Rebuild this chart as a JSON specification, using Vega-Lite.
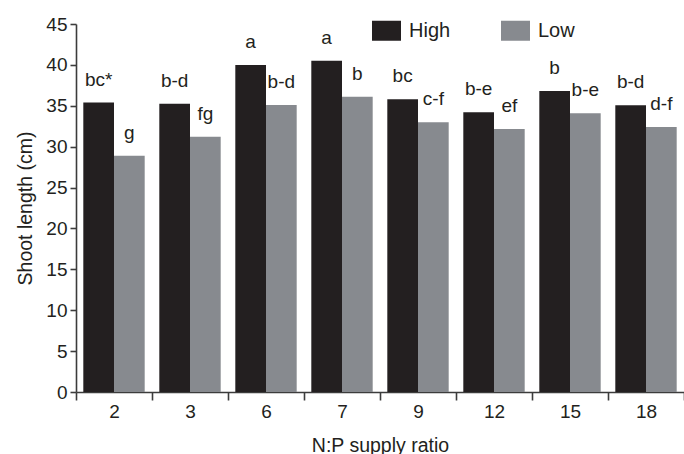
{
  "$schema": "https://vega.github.io/schema/vega-lite/v6.json",
  "width": 608,
  "height": 368,
  "autosize": {"type": "none"},
  "padding": {"left": 76, "top": 24, "right": 0, "bottom": 62},
  "background": "white",
  "config": {"view": {"stroke": null}, "font": "Liberation Sans"},
  "data": {"values": [
    {"ratio": "2", "level": "High", "value": 35.4, "label": "bc*"},
    {"ratio": "2", "level": "Low", "value": 28.9, "label": "g"},
    {"ratio": "3", "level": "High", "value": 35.25, "label": "b-d"},
    {"ratio": "3", "level": "Low", "value": 31.2, "label": "fg"},
    {"ratio": "6", "level": "High", "value": 40.0, "label": "a"},
    {"ratio": "6", "level": "Low", "value": 35.1, "label": "b-d"},
    {"ratio": "7", "level": "High", "value": 40.5, "label": "a"},
    {"ratio": "7", "level": "Low", "value": 36.1, "label": "b"},
    {"ratio": "9", "level": "High", "value": 35.8, "label": "bc"},
    {"ratio": "9", "level": "Low", "value": 33.0, "label": "c-f"},
    {"ratio": "12", "level": "High", "value": 34.2, "label": "b-e"},
    {"ratio": "12", "level": "Low", "value": 32.15, "label": "ef"},
    {"ratio": "15", "level": "High", "value": 36.8, "label": "b"},
    {"ratio": "15", "level": "Low", "value": 34.1, "label": "b-e"},
    {"ratio": "18", "level": "High", "value": 35.05, "label": "b-d"},
    {"ratio": "18", "level": "Low", "value": 32.4, "label": "d-f"}
  ]},
  "encoding": {
    "x": {
      "field": "ratio", "type": "nominal",
      "sort": ["2", "3", "6", "7", "9", "12", "15", "18"],
      "scale": {"paddingInner": 0, "paddingOuter": 0},
      "axis": {
        "title": "N:P supply ratio", "labelAngle": 0, "tickBand": "extent",
        "tickSize": 8, "labelPadding": 2, "labelFontSize": 19, "labelColor": "#231f20",
        "titleFontSize": 19.5, "titleFontWeight": "normal", "titleColor": "#231f20", "titlePadding": 15,
        "domainColor": "#3c3c3c", "tickColor": "#3c3c3c", "domainWidth": 1.6, "tickWidth": 1.6, "grid": false
      }
    },
    "xOffset": {
      "field": "level", "type": "nominal", "sort": ["High", "Low"],
      "scale": {"paddingInner": 0, "paddingOuter": 0.238}
    },
    "y": {
      "field": "value", "type": "quantitative",
      "scale": {"domain": [0, 45], "nice": false},
      "axis": {
        "title": "Shoot length (cm)", "values": [0, 5, 10, 15, 20, 25, 30, 35, 40, 45],
        "tickSize": 6, "labelPadding": 3, "labelFontSize": 19, "labelColor": "#231f20",
        "titleFontSize": 19.5, "titleFontWeight": "normal", "titleColor": "#231f20", "titlePadding": 10,
        "domainColor": "#3c3c3c", "tickColor": "#3c3c3c", "domainWidth": 1.6, "tickWidth": 1.6, "grid": false
      }
    }
  },
  "layer": [
    {
      "mark": {"type": "bar"},
      "encoding": {
        "color": {
          "field": "level", "type": "nominal",
          "scale": {"domain": ["High", "Low"], "range": ["#231f20", "#878a8f"]},
          "legend": {
            "title": null, "orient": "none", "legendX": 296, "legendY": -8,
            "direction": "horizontal", "padding": 0,
            "symbolType": "M-1,-0.69H1V0.69H-1Z", "symbolSize": 841, "symbolStrokeWidth": 0,
            "labelFontSize": 20, "labelColor": "#231f20", "labelOffset": 8, "columnPadding": 50
          }
        }
      }
    },
    {
      "mark": {"type": "text", "dy": -17, "baseline": "alphabetic", "fontSize": 19, "color": "#231f20"},
      "encoding": {"text": {"field": "label"}}
    }
  ]
}
